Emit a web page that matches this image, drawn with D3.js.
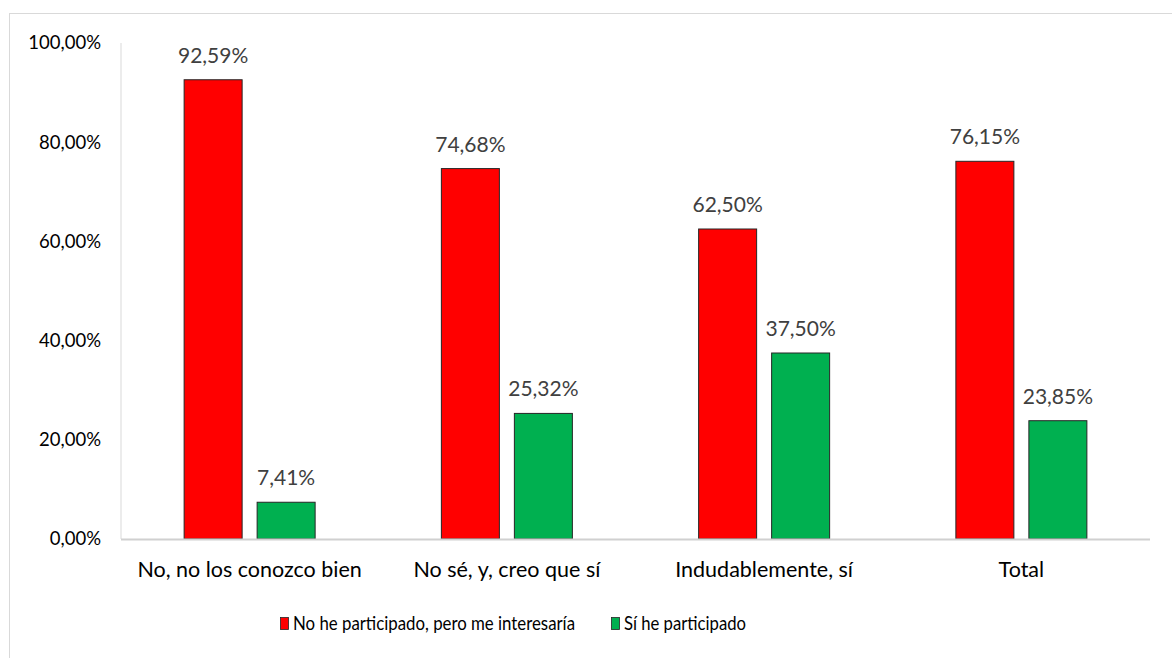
<!DOCTYPE html>
<html>
<head>
<meta charset="utf-8">
<script src="https://cdn.jsdelivr.net/npm/d3@7"></script>
<style>
  html, body { margin: 0; padding: 0; background: #fff; }
  svg { display: block; font-family: Lato, "Open Sans", sans-serif; }
</style>
</head>
<body>
<svg id="chart" width="1172" height="658"></svg>
<script>
// Survey answers grouped by response
const categories = ["No, no los conozco bien", "No sé, y, creo que sí", "Indudablemente, sí", "Total"];
const seriesNames = ["No he participado, pero me interesaría", "Sí he participado"];
const noParticipado = [92.59, 74.68, 62.50, 76.15];
const siParticipado = [7.41, 25.32, 37.50, 23.85];
const yTicks = [0, 20, 40, 60, 80, 100];
const colors = ["#FF0000", "#00B050"];

const series = [noParticipado, siParticipado];
const fmt = v => v.toFixed(2).replace(".", ",") + "%";

const svg = d3.select("#chart");

// outer frame (continues past the right and bottom edges)
svg.append("rect")
  .attr("x", 9.5).attr("y", 13.5)
  .attr("width", 1200).attr("height", 700)
  .attr("fill", "#fff").attr("stroke", "#d9d9d9");

const plot = { left: 121, right: 1150, top: 43, bottom: 539 };

const x0 = d3.scaleBand().domain(categories).range([plot.left, plot.right]).paddingInner(0).paddingOuter(0);
const y = d3.scaleLinear().domain([0, 100]).range([plot.bottom, plot.top]);

const barW = 58, gap = 15;

// y axis labels
svg.append("g").selectAll("text").data(yTicks).join("text")
  .attr("x", 101).attr("y", d => y(d))
  .attr("dy", "0.35em")
  .attr("text-anchor", "end")
  .attr("font-size", 18.5)
  .attr("fill", "#000")
  .text(d => d.toFixed(2).replace(".", ",") + "%");

// bars
categories.forEach((c, ci) => {
  const cx = x0(c) + x0.bandwidth() / 2;
  series.forEach((vals, si) => {
    const v = vals[ci];
    const bx = si === 0 ? cx - gap / 2 - barW : cx + gap / 2;
    svg.append("rect")
      .attr("x", bx).attr("y", y(v))
      .attr("width", barW).attr("height", y(0) - y(v))
      .attr("fill", colors[si])
      .attr("stroke", "#262626").attr("stroke-width", 1);
    svg.append("text")
      .attr("x", bx + barW / 2).attr("y", y(v) - 17)
      .attr("text-anchor", "middle")
      .attr("font-size", 21)
      .attr("fill", "#404040")
      .text(fmt(v));
  });
  svg.append("text")
    .attr("x", cx).attr("y", 577)
    .attr("text-anchor", "middle")
    .attr("font-size", 21.5)
    .attr("fill", "#000")
    .text(c);
});

// axis lines
svg.append("line")
  .attr("x1", plot.left).attr("x2", plot.left)
  .attr("y1", plot.top).attr("y2", plot.bottom)
  .attr("stroke", "#d9d9d9").attr("stroke-width", 1);
svg.append("line")
  .attr("x1", plot.left).attr("x2", plot.right)
  .attr("y1", plot.bottom + 0.5).attr("y2", plot.bottom + 0.5)
  .attr("stroke", "#d0d0d0").attr("stroke-width", 2);

// legend (condensed text)
const legendItems = [
  { x: 280, name: seriesNames[0], color: colors[0], len: 282 },
  { x: 611, name: seriesNames[1], color: colors[1], len: 122 }
];
const lg = svg.append("g");
legendItems.forEach(it => {
  lg.append("rect")
    .attr("x", it.x + 0.5).attr("y", 617.5)
    .attr("width", 8).attr("height", 12)
    .attr("fill", it.color).attr("stroke", "#262626").attr("stroke-width", 0.8);
  lg.append("text")
    .attr("x", it.x + 13).attr("y", 630)
    .attr("font-size", 20)
    .attr("textLength", it.len)
    .attr("lengthAdjust", "spacingAndGlyphs")
    .attr("fill", "#000")
    .text(it.name);
});
</script>
</body>
</html>
